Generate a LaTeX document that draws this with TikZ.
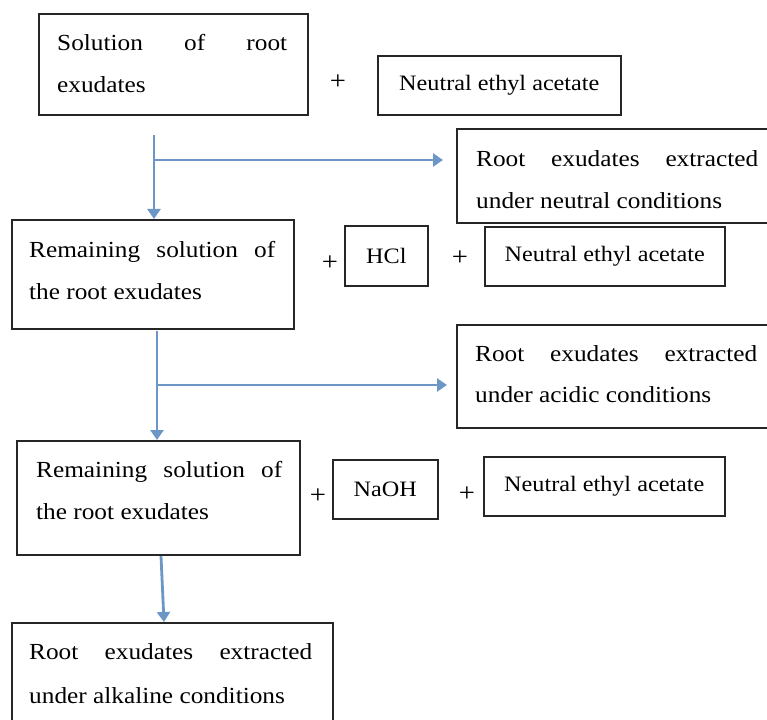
\documentclass[tikz,border=0pt]{standalone}
\usepackage{fontspec}
\setmainfont{Liberation Serif}[FakeStretch=1.1]
\usetikzlibrary{arrows.meta,calc}
\definecolor{arrowblue}{RGB}{108,150,198}
\begin{document}
\begin{tikzpicture}[x=1pt,y=-1pt,
  box/.style={draw=black!85, line width=1.6pt, inner sep=0pt, anchor=north west},
  txt/.style={anchor=base west, inner sep=0pt, font=\fontsize{23}{28}\selectfont},
  ctr/.style={inner sep=0pt, font=\fontsize{22}{26}\selectfont},
  plus/.style={inner sep=0pt, font=\fontsize{26}{30}\selectfont},
  flow/.style={draw=arrowblue, line width=2.8pt, -{Triangle[width=13pt,length=10pt]}}]
\useasboundingbox (0,0) rectangle (767,719);

% Row 1
\node[box, minimum width=269pt, minimum height=101pt] (b1) at (38,13) {};
\node[txt] (t1a) at (57,51) {\makebox[230pt][s]{Solution of root}};
\node[txt] (t1b) at (57,93) {exudates};
\node[plus] (p1) at (338,82) {+};
\node[box, minimum width=243pt, minimum height=59pt] (e1) at (377,55) {};
\node[ctr] (e1t) at (e1.center) {Neutral ethyl acetate};

% Neutral extract
\node[box, minimum width=320pt, minimum height=94pt] (n1) at (456,128) {};
\node[txt] (n1a) at (476,167) {\makebox[282pt][s]{Root exudates extracted}};
\node[txt] (n1b) at (476,208) {under neutral conditions};

% Row 2
\node[box, minimum width=282pt, minimum height=109pt] (b2) at (11,219) {};
\node[txt] (t2a) at (29,257) {\makebox[246pt][s]{Remaining solution of}};
\node[txt] (t2b) at (29,299) {the root exudates};
\node[plus] (p2) at (330,263) {+};
\node[box, minimum width=83pt, minimum height=60pt] (h) at (344,225) {};
\node[ctr] (ht) at (h.center) {HCl};
\node[plus] (p3) at (460,258) {+};
\node[box, minimum width=240pt, minimum height=59pt] (e2) at (484,226) {};
\node[ctr] (e2t) at (e2.center) {Neutral ethyl acetate};

% Acidic extract
\node[box, minimum width=320pt, minimum height=103pt] (a1) at (456,324) {};
\node[txt] (a1a) at (475,361) {\makebox[282pt][s]{Root exudates extracted}};
\node[txt] (a1b) at (475,402) {under acidic conditions};

% Row 3
\node[box, minimum width=283pt, minimum height=114pt] (b3) at (16,440) {};
\node[txt] (t3a) at (36,477) {\makebox[246pt][s]{Remaining solution of}};
\node[txt] (t3b) at (36,519) {the root exudates};
\node[plus] (p4) at (318,496) {+};
\node[box, minimum width=105pt, minimum height=59pt] (na) at (332,459) {};
\node[ctr] (nat) at (na.center) {NaOH};
\node[plus] (p5) at (467,494) {+};
\node[box, minimum width=241pt, minimum height=59pt] (e3) at (483,456) {};
\node[ctr] (e3t) at (e3.center) {Neutral ethyl acetate};

% Alkaline extract
\node[box, minimum width=321pt, minimum height=120pt] (b4) at (11,622) {};
\node[txt] (t4a) at (29,659) {\makebox[283pt][s]{Root exudates extracted}};
\node[txt] (t4b) at (29,703) {under alkaline conditions};

% Arrows
\coordinate (s1) at (154,135);
\coordinate (j1) at (154,160);
\draw[flow] (s1) -- (s1 |- b2.north);
\draw[flow] (j1) -- ([xshift=-13pt]j1 -| n1.west);
\coordinate (s2) at (157,331);
\coordinate (j2) at (157,385);
\draw[flow] (s2) -- (s2 |- b3.north);
\draw[flow] (j2) -- ([xshift=-9pt]j2 -| a1.west);
\coordinate (s3) at (161,556);
\draw[flow] (s3) -- ($(b4.north west)+(153,0)$);
\end{tikzpicture}
\end{document}
